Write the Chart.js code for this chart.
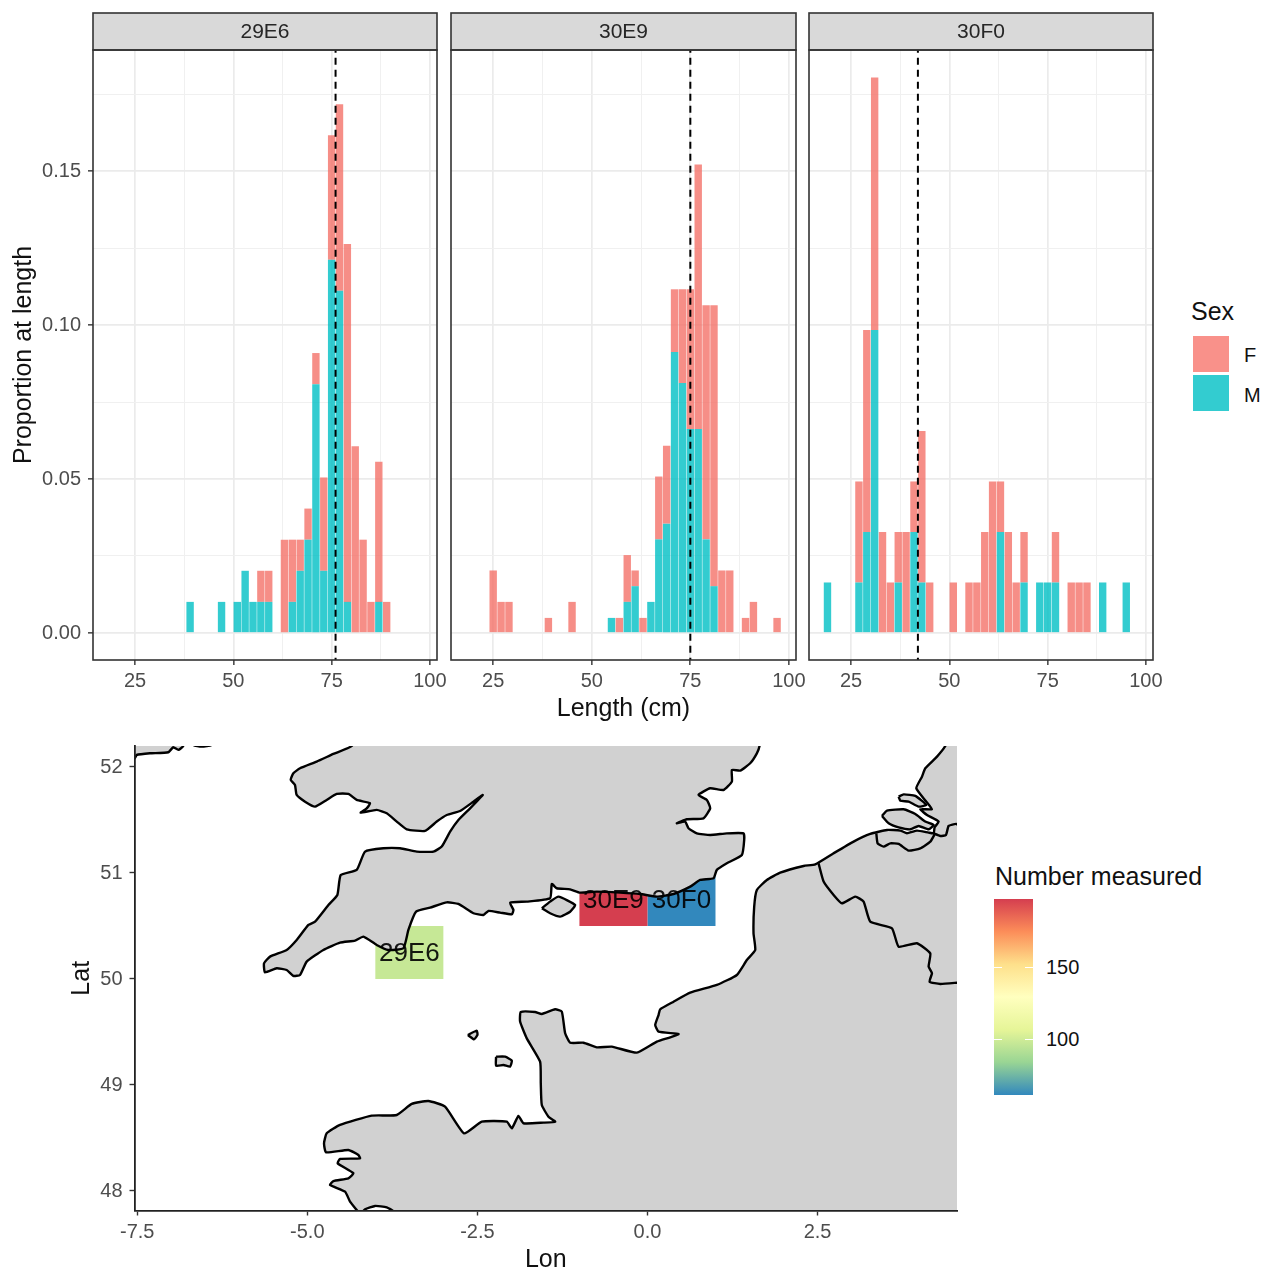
<!DOCTYPE html>
<html>
<head>
<meta charset="utf-8">
<title>Proportion at length by ICES rectangle</title>
<script src="https://cdn.jsdelivr.net/npm/chart.js@4"></script>
<style>
  html,body{margin:0;padding:0;background:#fff;}
  #page{position:relative;width:1269px;height:1273px;overflow:hidden;font-family:'Liberation Sans',Arial,sans-serif;}
  canvas{position:absolute;}
  .t{position:absolute;white-space:nowrap;color:#111;transform:translateY(-50%);line-height:1;}
  .k{position:absolute;}
</style>
</head>
<body>
<div id="page">
  <canvas id="p1" style="left:0;top:10px"></canvas>
  <canvas id="p2" style="left:441px;top:10px"></canvas>
  <canvas id="p3" style="left:799px;top:10px"></canvas>
  <canvas id="map" style="left:60px;top:740px"></canvas>

  <div class="t" style="left:1191px;top:311px;font-size:25px">Sex</div>
  <div class="k" style="left:1193px;top:335.5px;width:36px;height:36px;background:rgba(248,118,109,.8)"></div>
  <div class="k" style="left:1193px;top:375px;width:36px;height:36px;background:rgba(0,191,196,.8)"></div>
  <div class="t" style="left:1244px;top:355px;font-size:20px">F</div>
  <div class="t" style="left:1244px;top:395px;font-size:20px">M</div>

  <div class="t" style="left:995px;top:876px;font-size:25px">Number measured</div>
  <div class="k" id="bar" style="left:994px;top:899px;width:39px;height:196px"></div>
  <div class="k" style="left:994px;top:967px;width:8px;height:1px;background:#fff"></div>
  <div class="k" style="left:1025px;top:967px;width:8px;height:1px;background:#fff"></div>
  <div class="k" style="left:994px;top:1039px;width:8px;height:1px;background:#fff"></div>
  <div class="k" style="left:1025px;top:1039px;width:8px;height:1px;background:#fff"></div>
  <div class="t" style="left:1046px;top:967px;font-size:20px">150</div>
  <div class="t" style="left:1046px;top:1039px;font-size:20px">100</div>
</div>
<script>
// ---------- Length-frequency data ----------
const panelNames = ['29E6', '30E9', '30F0'];
const meanLengths = [76, 75, 42];

const lengths29E6 = [39,47,51,53,55,57,59,63,65,67,69,71,73,75,77,79,81,83,85,87,89];
const male29E6   = [.0101,.0101,.0101,.0202,.0101,.0101,.0101,0,.0101,.0202,.0303,.0808,.0202,.1212,.1111,.0101,0,0,0,.0101,0];
const female29E6 = [0,0,0,0,0,.0101,.0101,.0303,.0202,.0101,.0101,.0101,.0303,.0404,.0606,.1162,.0606,.0303,.0101,.0455,.0101];

const lengths30E9 = [25,27,29,39,45,55,57,59,61,63,65,67,69,71,73,75,77,79,81,83,85,89,91,97];
const male30E9   = [0,0,0,0,0,.0049,0,.0101,.0152,0,.0101,.0304,.0355,.0912,.0812,.0662,.0662,.0304,.0152,0,0,0,0,0];
const female30E9 = [.0203,.0101,.0101,.0049,.0101,0,.0049,.0152,.0051,.0049,0,.0204,.0253,.0204,.0304,.0454,.0859,.0760,.0912,.0203,.0203,.0049,.0101,.0049];

const lengths30F0 = [19,27,29,31,33,35,37,39,41,43,45,51,55,57,59,61,63,65,67,69,73,75,77,81,83,85,89,95];
const male30F0   = [.0164,.0164,.0328,.0984,0,0,.0164,0,.0328,.0164,0,0,0,0,0,0,.0328,0,0,.0164,.0164,.0164,.0164,0,0,0,.0164,.0164];
const female30F0 = [0,.0328,.0656,.082,.0328,.0164,.0164,.0328,.0164,.0492,.0164,.0164,.0164,.0164,.0328,.0492,.0164,.0328,.0164,.0164,0,0,.0164,.0164,.0164,.0164,0,0];

const xMajorTicks = [25, 50, 75, 100];
const xMinorTicks = [37.5, 62.5, 87.5];
const yMajorTicks = [0, .05, .10, .15];
const yMinorTicks = [.025, .075, .125, .175];

// ---------- Map data (lon, lat) ----------
const tileNames  = ['29E6', '30E9', '30F0'];
const tileLon    = [[-4,-3], [-1,0], [0,1]];
const tileLat    = [[50,50.5], [50.5,51], [50.5,51]];
const tileCounts = [97, 197, 61];
const countRange = [61, 197];
const lonTicks = [-7.5, -5, -2.5, 0, 2.5];
const latTicks = [48, 49, 50, 51, 52];

const greatBritain = [[-4.18,52.4],[-4.347,52.198],[-4.617,52.123],[-4.862,52.051],[-5.107,51.988],[-5.205,51.941],[-5.244,51.878],[-5.181,51.83],[-5.156,51.736],[-5.033,51.673],[-4.886,51.626],[-4.715,51.689],[-4.568,51.746],[-4.396,51.746],[-4.274,51.689],[-4.078,51.658],[-4.127,51.61],[-4.215,51.569],[-3.98,51.595],[-3.832,51.563],[-3.685,51.485],[-3.538,51.412],[-3.269,51.397],[-3.097,51.485],[-2.95,51.547],[-2.754,51.585],[-2.558,51.673],[-2.421,51.736],[-2.607,51.61],[-2.779,51.5],[-2.901,51.39],[-3.024,51.249],[-3.146,51.202],[-3.391,51.202],[-3.636,51.233],[-3.882,51.233],[-4.151,51.202],[-4.274,51.029],[-4.509,50.981],[-4.558,50.793],[-4.69,50.698],[-4.886,50.541],[-4.984,50.51],[-5.156,50.368],[-5.303,50.274],[-5.548,50.211],[-5.636,50.148],[-5.622,50.063],[-5.45,50.101],[-5.303,50.085],[-5.205,50.029],[-5.107,50.038],[-5.009,50.164],[-4.764,50.274],[-4.519,50.343],[-4.298,50.362],[-4.176,50.4],[-3.98,50.321],[-3.808,50.274],[-3.587,50.29],[-3.514,50.463],[-3.401,50.635],[-3.195,50.673],[-2.95,50.723],[-2.779,50.708],[-2.558,50.62],[-2.411,50.604],[-2.337,50.642],[-2.166,50.626],[-1.994,50.61],[-1.97,50.651],[-2.019,50.72],[-1.774,50.73],[-1.431,50.761],[-1.406,50.896],[-1.333,50.856],[-1.137,50.846],[-.99,50.815],[-.745,50.824],[-.402,50.815],[-.107,50.802],[.138,50.777],[.383,50.802],[.628,50.871],[.775,50.934],[.971,50.95],[1.02,51.029],[1.167,51.091],[1.388,51.17],[1.422,51.312],[1.412,51.374],[1.167,51.374],[.922,51.359],[.726,51.374],[.603,51.422],[.554,51.484],[.432,51.469],[.579,51.507],[.824,51.516],[.922,51.61],[.873,51.689],[.75,51.736],[.922,51.799],[1.118,51.783],[1.241,51.862],[1.241,51.972],[1.363,51.966],[1.51,52.035],[1.608,52.129],[1.647,52.198],[1.68,52.4]];
const isleOfWight = [[-1.553,50.667],[-1.431,50.73],[-1.308,50.777],[-1.063,50.698],[-1.137,50.635],[-1.284,50.588],[-1.431,50.62]];
const irelandWest = [[-7.7,52.35],[-7.7,52.09],[-7.538,52.082],[-7.509,52.113],[-7.313,52.129],[-7.043,52.139],[-6.97,52.186],[-6.896,52.161],[-6.823,52.198],[-6.8,52.35]];
const irelandEast = [[-6.7,52.3],[-6.676,52.208],[-6.553,52.192],[-6.406,52.208],[-6.38,52.3]];
const continent = [[4.7,52.4],[4.452,52.318],[4.378,52.198],[4.256,52.098],[4.084,51.988],[4.035,51.909],[3.952,51.799],[4.099,51.673],[4.182,51.601],[4.011,51.601],[4.109,51.547],[4.28,51.485],[4.221,51.431],[4.207,51.374],[4.133,51.381],[3.962,51.4],[3.815,51.375],[3.717,51.4],[3.521,51.406],[3.275,51.368],[3.03,51.296],[2.736,51.186],[2.467,51.082],[2.295,51.066],[1.951,51.003],[1.755,50.934],[1.608,50.84],[1.569,50.683],[1.559,50.431],[1.584,50.274],[1.461,50.179],[1.314,50.038],[1.02,49.944],[.628,49.871],[.383,49.786],[.187,49.714],[.163,49.66],[.114,49.566],[.163,49.503],[.457,49.481],[.334,49.45],[.138,49.409],[-.156,49.305],[-.524,49.362],[-.744,49.355],[-.94,49.399],[-1.136,49.399],[-1.21,49.488],[-1.259,49.692],[-1.357,49.714],[-1.553,49.67],[-1.651,49.689],[-1.862,49.689],[-1.872,49.598],[-1.774,49.44],[-1.578,49.22],[-1.568,49.016],[-1.553,48.811],[-1.455,48.701],[-1.357,48.654],[-1.529,48.645],[-1.823,48.639],[-1.896,48.708],[-1.994,48.591],[-2.068,48.654],[-2.435,48.654],[-2.695,48.544],[-2.975,48.796],[-3.22,48.849],[-3.465,48.821],[-3.685,48.717],[-4.053,48.711],[-4.519,48.623],[-4.715,48.544],[-4.754,48.45],[-4.725,48.365],[-4.396,48.387],[-4.249,48.34],[-4.225,48.308],[-4.519,48.302],[-4.553,48.261],[-4.323,48.167],[-4.396,48.12],[-4.617,48.094],[-4.666,48.057],[-4.445,47.994],[-4.372,47.9],[-4.274,47.821],[-4.225,47.783],[-4.151,47.827],[-4.004,47.859],[-3.832,47.846],[-3.734,47.808],[-3.636,47.7],[6,47.7],[6,52.4]];
const zeelandNorth = [[3.692,51.72],[3.766,51.742],[3.937,51.727],[4.099,51.642],[3.986,51.626],[3.839,51.673],[3.717,51.683]];
const zeelandSouth = [[3.447,51.538],[3.521,51.588],[3.766,51.601],[3.937,51.557],[4.084,51.485],[4.207,51.453],[4.133,51.412],[3.986,51.444],[3.864,51.412],[3.692,51.431],[3.545,51.469]];
const alderney = [[-2.641,49.472],[-2.509,49.513],[-2.499,49.472],[-2.548,49.431]];
const jersey = [[-2.225,49.267],[-2.092,49.267],[-1.994,49.23],[-2.019,49.173],[-2.117,49.189],[-2.225,49.182]];
const franceBelgiumBorder = [[2.515,51.091],[2.589,50.919],[2.736,50.793],[2.858,50.714],[3.054,50.777],[3.177,50.73],[3.275,50.541],[3.594,50.478],[3.692,50.305],[3.961,50.337],[4.157,50.242],[4.133,50.117],[4.182,50.054],[4.147,49.975],[4.304,49.953],[4.569,49.966]];
const belgiumDutchBorder = [[3.364,51.374],[3.383,51.28],[3.471,51.249],[3.57,51.28],[3.692,51.274],[3.839,51.211],[4.011,51.233],[4.158,51.296],[4.221,51.365]];
const scheldtLine = [[4.207,51.374],[4.305,51.349],[4.388,51.359],[4.427,51.444],[4.54,51.463],[4.599,51.422]];

// ---------- Helpers ----------
const SANS = "'Liberation Sans', Arial, sans-serif";
const spectral = ['#3288BD','#99D594','#E6F598','#FFFFBF','#FEE08B','#FC8D59','#D53E4F'];
function hex(c){return [1,3,5].map(i=>parseInt(c.substr(i,2),16));}
function spectralColor(v){
  const t=(v-countRange[0])/(countRange[1]-countRange[0])*(spectral.length-1);
  const i=Math.min(Math.floor(t),spectral.length-2), f=t-i;
  const a=hex(spectral[i]), b=hex(spectral[i+1]);
  return 'rgb('+a.map((x,k)=>Math.round(x+(b[k]-x)*f)).join(',')+')';
}
document.getElementById('bar').style.background='linear-gradient(to top,'+spectral.join(',')+')';

const stripPlugin = {
  id:'strip',
  beforeDraw(chart){
    const {ctx,chartArea:a}=chart;
    ctx.save();
    ctx.fillStyle='#D9D9D9';
    ctx.fillRect(a.left,3,a.right-a.left,a.top-3);
    ctx.restore();
  },
  afterDatasetsDraw(chart){
    const {ctx,chartArea:a}=chart;
    ctx.save();
    ctx.strokeStyle='#333333';
    ctx.lineWidth=1.6;
    ctx.strokeRect(a.left,a.top,a.right-a.left,a.bottom-a.top);
    ctx.strokeRect(a.left,3,a.right-a.left,a.top-3);
    ctx.restore();
  }
};

function gridOpts(majors, drawTicks){
  const isMajor = c => c.tick && majors.includes(c.tick.value);
  return {
    drawTicks, tickLength:5, offset:false,
    color: c => isMajor(c) ? '#EBEBEB' : '#F0F0F0',
    lineWidth: c => isMajor(c) ? 1.7 : 1,
    tickColor:'#333333',
    tickWidth: c => isMajor(c) ? 1.4 : 0
  };
}

function panel(id, w, idx, lens, male, female, first){
  const el=document.getElementById(id);
  el.width=w; el.height=715; el.style.width=w+'px'; el.style.height='715px';
  const toXY = arr => lens.map((x,i)=>({x,y:arr[i]}));
  return new Chart(el,{
    type:'bar',
    data:{datasets:[
      {label:'M',data:toXY(male),backgroundColor:'rgba(0,191,196,0.8)',borderWidth:0,stack:'bars',order:1,categoryPercentage:1,barPercentage:.94},
      {label:'F',data:toXY(female),backgroundColor:'rgba(244,114,105,0.8)',borderWidth:0,stack:'bars',order:1,categoryPercentage:1,barPercentage:.94},
      {type:'line',label:'Mean',data:[{x:meanLengths[idx],y:-1},{x:meanLengths[idx],y:1}],borderColor:'#000',borderWidth:2,borderDash:[7,5],pointRadius:0,stack:'mean',order:0,fill:false}
    ]},
    plugins:[stripPlugin],
    options:{
      responsive:false,animation:false,events:[],
      layout:{padding:{left:first?0:10,right:20,top:3,bottom:0}},
      plugins:{
        legend:{display:false},tooltip:{enabled:false},
        title:{display:true,text:panelNames[idx],fullSize:false,color:'#262626',font:{family:SANS,size:21,weight:'normal',lineHeight:1.2},padding:{top:7,bottom:4.8}}
      },
      scales:{
        x:{
          type:'linear',stacked:true,min:14.3,max:101.8,offset:false,
          afterBuildTicks:a=>{a.ticks=[...xMajorTicks,...xMinorTicks].sort((p,q)=>p-q).map(value=>({value}));},
          afterFit:a=>{a.height=65;},
          grid:gridOpts(xMajorTicks,true),
          border:{display:false},
          ticks:{autoSkip:false,maxRotation:0,padding:4,color:'#4D4D4D',font:{family:SANS,size:20},
            callback:v=>xMajorTicks.includes(v)?String(v):''},
          title:{display:idx===1,text:'Length (cm)',color:'#111',font:{family:SANS,size:25},padding:{top:0,bottom:1}}
        },
        y:{
          stacked:true,min:-0.00877,max:0.1893,
          afterBuildTicks:a=>{a.ticks=[...yMajorTicks,...yMinorTicks].sort((p,q)=>p-q).map(value=>({value}));},
          afterFit:a=>{a.width=first?93:0;},
          grid:gridOpts(yMajorTicks,first),
          border:{display:false},
          ticks:{display:first,autoSkip:false,padding:7,color:'#4D4D4D',font:{family:SANS,size:20},
            callback:v=>yMajorTicks.includes(v)?v.toFixed(2):''},
          title:{display:first,text:'Proportion at length',color:'#111',font:{family:SANS,size:25},padding:{top:9,bottom:0}}
        }
      }
    }
  });
}

panel('p1',457,0,lengths29E6,male29E6,female29E6,true);
panel('p2',375,1,lengths30E9,male30E9,female30E9,false);
panel('p3',374,2,lengths30F0,male30F0,female30F0,false);

// ---------- Map ----------
const pts = a => a.map(p=>({x:p[0],y:p[1]}));
const land = a => ({data:pts(a),fill:'shape',backgroundColor:'#D1D1D1',borderColor:'#000',borderWidth:2.4,pointRadius:0,tension:0.15,clip:0,borderJoinStyle:'round'});
const rim  = a => ({data:pts(a),fill:false,borderColor:'#000',borderWidth:2.4,pointRadius:0,tension:0.15,clip:0,borderJoinStyle:'round'});
const closed = a => a.concat([a[0]]);
const tiles = tileNames.map((n,i)=>({
  label:n,
  data:pts([[tileLon[i][0],tileLat[i][0]],[tileLon[i][1],tileLat[i][0]],[tileLon[i][1],tileLat[i][1]],[tileLon[i][0],tileLat[i][1]]]),
  fill:'shape',backgroundColor:spectralColor(tileCounts[i]),borderWidth:0,borderColor:'transparent',pointRadius:0,tension:0,clip:0
}));

const tileLabels = {
  id:'tileLabels',
  afterDatasetsDraw(chart){
    const {ctx,scales:{x,y}}=chart;
    ctx.save();
    ctx.fillStyle='rgba(0,0,0,.9)';
    ctx.font='26px '+SANS;
    ctx.textAlign='center';ctx.textBaseline='middle';
    tileNames.forEach((n,i)=>{
      ctx.fillText(n,x.getPixelForValue((tileLon[i][0]+tileLon[i][1])/2),y.getPixelForValue((tileLat[i][0]+tileLat[i][1])/2)+1);
    });
    ctx.restore();
  }
};

const mapEl=document.getElementById('map');
mapEl.width=917;mapEl.height=535;mapEl.style.width='917px';mapEl.style.height='535px';
new Chart(mapEl,{
  type:'line',
  data:{datasets:[
    rim(scheldtLine),rim(belgiumDutchBorder),rim(franceBelgiumBorder),
    land(closed(jersey)),land(closed(alderney)),
    land(closed(zeelandSouth)),land(closed(zeelandNorth)),
    land(closed(isleOfWight)),land(irelandEast),land(irelandWest),
    land(continent),land(greatBritain),
    ...tiles
  ]},
  plugins:[tileLabels],
  options:{
    responsive:false,animation:false,events:[],
    layout:{padding:{left:0,right:20,top:6,bottom:0}},
    plugins:{legend:{display:false},tooltip:{enabled:false}},
    scales:{
      x:{
        type:'linear',min:-7.54,max:4.55,
        afterBuildTicks:a=>{a.ticks=lonTicks.map(value=>({value}));},
        afterFit:a=>{a.height=64.5;a.paddingLeft=0;a.paddingRight=0;},
        grid:{drawOnChartArea:false,tickLength:5,tickColor:'#333',tickWidth:1.4},
        border:{color:'#222',width:1.8,z:1},
        ticks:{autoSkip:false,maxRotation:0,padding:5,color:'#4D4D4D',font:{family:SANS,size:20},callback:v=>v.toFixed(1)},
        title:{display:true,text:'Lon',color:'#111',font:{family:SANS,size:25},padding:{top:0,bottom:0}}
      },
      y:{
        min:47.816,max:52.198,
        afterBuildTicks:a=>{a.ticks=latTicks.map(value=>({value}));},
        afterFit:a=>{a.width=74.5;a.paddingTop=0;a.paddingBottom=0;},
        grid:{drawOnChartArea:false,tickLength:5,tickColor:'#333',tickWidth:1.4},
        border:{color:'#222',width:1.8,z:1},
        ticks:{autoSkip:false,padding:7,color:'#4D4D4D',font:{family:SANS,size:20},callback:v=>String(v)},
        title:{display:true,text:'Lat',color:'#111',font:{family:SANS,size:25},padding:{top:7,bottom:0}}
      }
    }
  }
});
</script>
</body>
</html>
